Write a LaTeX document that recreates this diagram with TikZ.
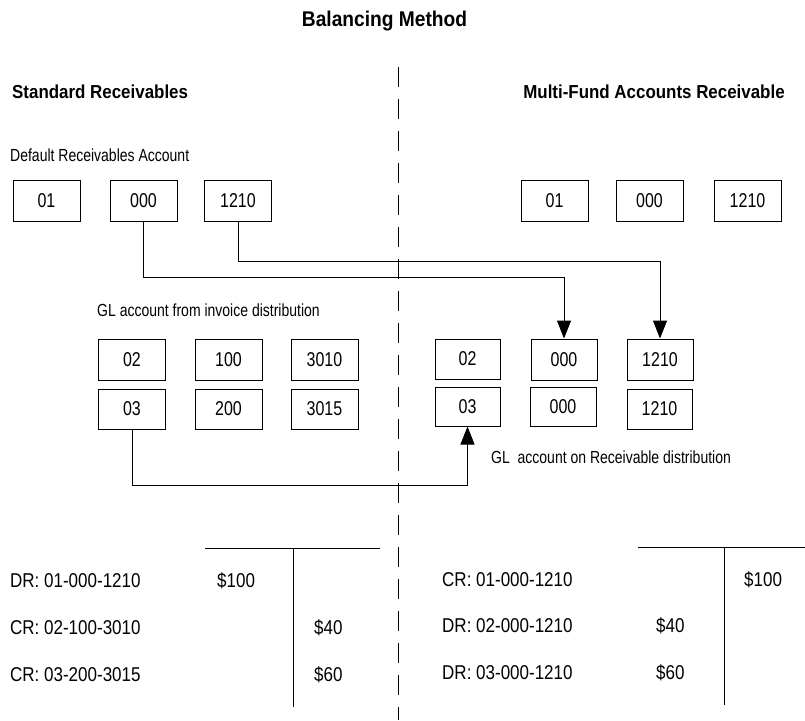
\documentclass[tikz,border=0pt]{standalone}
\usepackage{fontspec}
\setmainfont{Liberation Sans}
\newfontfamily\nfont[FakeStretch=0.8]{Liberation Sans}
\newfontfamily\wfont[FakeStretch=0.9]{Liberation Sans}
\newfontfamily\lfont[FakeStretch=0.85]{Liberation Sans}
\usetikzlibrary{arrows.meta}
\begin{document}
\begin{tikzpicture}[x=1pt,y=-1pt,
  acct/.style={draw, line width=1pt, minimum width=67pt, minimum height=41pt, inner sep=0pt, font=\nfont\fontsize{20}{22}\selectfont},
  txt/.style={inner sep=0pt, font=\nfont\fontsize{17.5}{20}\selectfont},
  head/.style={inner sep=0pt, font=\wfont\bfseries\fontsize{18.8}{21}\selectfont},
  ttl/.style={inner sep=0pt, font=\wfont\bfseries\fontsize{21.3}{24}\selectfont},
  ledger/.style={inner sep=0pt, font=\lfont\fontsize{20}{22}\selectfont},
  link/.style={line width=1pt},
  tip/.style={-{Triangle[length=18pt,width=14pt]}},
  tline/.style={line width=1pt},
]
\useasboundingbox (0,0) rectangle (805,720);

% headings
\node[ttl, anchor=base] (title) at (384.5,26.5) {Balancing Method};
\node[head, anchor=base west] (hstd) at (12,98) {Standard Receivables};
\node[head, anchor=base] (hmf) at (654,98) {Multi-Fund Accounts Receivable};

% divider
\draw[line width=1pt, dash pattern=on 20pt off 12pt] (398,67) -- (398,720);

% labels
\node[txt, anchor=base west] (ldef) at (10,161) {Default Receivables Account};
\node[txt, anchor=base west] (lgl) at (97,316) {GL account from invoice distribution};
\node[txt, anchor=base west] (lglr) at (491,463) {GL\ \ account on Receivable distribution};

% row 1
\node[acct] (L1a) at (46.5,200.5) {01};
\node[acct] (L1b) at (143.5,200.5) {000};
\node[acct] (L1c) at (238,200.5) {1210};
\node[acct] (R1a) at (554.5,200.5) {01};
\node[acct] (R1b) at (649.5,200.5) {000};
\node[acct] (R1c) at (747.5,200.5) {1210};

% row 2
\node[acct] (L2a) at (132,359.5) {02};
\node[acct] (L2b) at (228.5,359.5) {100};
\node[acct] (L2c) at (324.5,359.5) {3010};
\node[acct, minimum width=65pt, minimum height=40pt] (R2a) at (467.5,359) {02};
\node[acct, minimum width=66pt] (R2b) at (564,359.5) {000};
\node[acct, minimum width=66pt] (R2c) at (660,359.5) {1210};

% row 3
\node[acct, minimum height=40pt] (L3a) at (132,409) {03};
\node[acct, minimum height=40pt] (L3b) at (228.5,409) {200};
\node[acct, minimum height=40pt] (L3c) at (324.5,409) {3015};
\node[acct, minimum width=65pt, minimum height=39pt] (R3a) at (467.5,406.5) {03};
\node[acct, minimum width=66pt, minimum height=39pt] (R3b) at (563,406.5) {000};
\node[acct, minimum width=65pt, minimum height=40pt] (R3c) at (659.5,409) {1210};

% connectors
\draw[link,tip] (L1b.south) -- ++(0,56) -| (R2b.north);
\draw[link,tip] (L1c.south) -- ++(0,40) -| (R2c.north);
\draw[link,tip] (L3a.south) -- ++(0,56) -| (R3a.south);

% T accounts
\draw[tline] (205,548) -- (380,548);
\draw[tline] (293,548) -- (293,707);
\draw[tline] (638,547) -- (805,547);
\draw[tline] (724,547) -- (724,705);

% ledger left
\node[ledger, anchor=base west] (d1) at (10,587) {DR: 01-000-1210};
\node[ledger, anchor=base west] (d2) at (10,634) {CR: 02-100-3010};
\node[ledger, anchor=base west] (d3) at (10,681) {CR: 03-200-3015};
\node[ledger, anchor=base west] (a1) at (217,587) {\$100};
\node[ledger, anchor=base west] (a2) at (314,634) {\$40};
\node[ledger, anchor=base west] (a3) at (314,681) {\$60};

% ledger right
\node[ledger, anchor=base west] (e1) at (442,586) {CR: 01-000-1210};
\node[ledger, anchor=base west] (e2) at (442,632) {DR: 02-000-1210};
\node[ledger, anchor=base west] (e3) at (442,679) {DR: 03-000-1210};
\node[ledger, anchor=base west] (b1) at (744,586) {\$100};
\node[ledger, anchor=base west] (b2) at (656,632) {\$40};
\node[ledger, anchor=base west] (b3) at (656,679) {\$60};
\end{tikzpicture}
\end{document}
